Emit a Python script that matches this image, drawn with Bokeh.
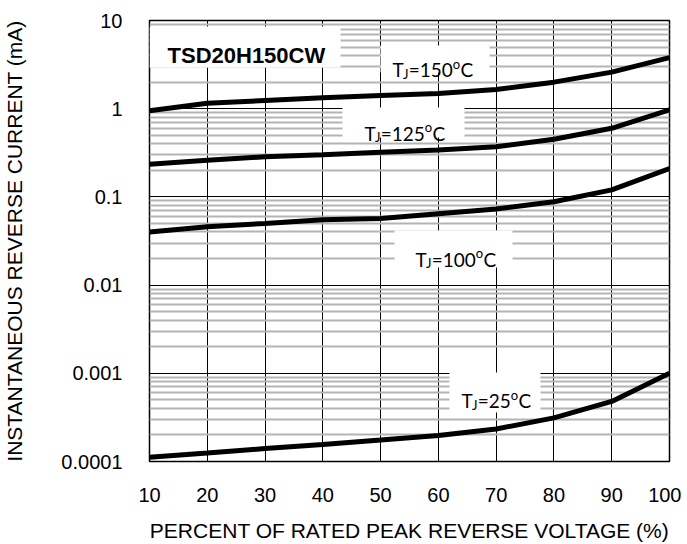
from bokeh.plotting import figure
from bokeh.models import FixedTicker, CustomJSTickFormatter
from bokeh.core.properties import value
from bokeh.embed import file_html
from bokeh.resources import INLINE

# ---- data ----
x_pct = [10, 20, 30, 40, 50, 60, 70, 80, 90, 100]
i_150 = [0.95, 1.15, 1.24, 1.33, 1.41, 1.49, 1.65, 2.0, 2.6, 3.8]
i_125 = [0.235, 0.26, 0.285, 0.30, 0.32, 0.34, 0.37, 0.45, 0.60, 0.97]
i_100 = [0.040, 0.046, 0.050, 0.055, 0.057, 0.0645, 0.073, 0.088, 0.12, 0.21]
i_25 = [0.000112, 0.000125, 0.00014, 0.000156, 0.000175, 0.000197, 0.000234, 0.000312, 0.00048, 0.001]

y_ticks = [0.0001, 0.001, 0.01, 0.1, 1, 10]
x_ticks = [10, 20, 30, 40, 50, 60, 70, 80, 90, 100]
minor_y = [m * d for d in [0.0001, 0.001, 0.01, 0.1, 1] for m in range(2, 10)]

title_text = "TSD20H150CW"
temps = ["150", "125", "100", "25"]
# label anchors (left edge, baseline) in data units
lab_x = [52.06, 47.21, 56.04, 64.0]
lab_y = [2.747, 0.5234, 0.01951, 0.000491]
# white label boxes (left, right, bottom, top) in data units
box_l = [10.0, 49.98, 43.40, 52.40, 61.92]
box_r = [43.06, 68.85, 64.52, 72.83, 77.67]
box_b = [2.94, 2.57, 0.4716, 0.01583, 0.000359]
box_t = [8.55, 5.21, 1.032, 0.0416, 0.00102]

p = figure(
    output_backend="svg", toolbar_location=None,
    x_range=(10, 100), y_range=(0.0001, 10), y_axis_type="log",
    frame_width=520, frame_height=441,
    min_border_left=147, min_border_right=12, min_border_top=20, min_border_bottom=75,
    background_fill_color="white", border_fill_color="white",
)
p.outline_line_color = "black"
p.outline_line_width = 1.5

p.xaxis.ticker = FixedTicker(ticks=x_ticks)
p.yaxis.ticker = FixedTicker(ticks=y_ticks, minor_ticks=minor_y)
p.yaxis.formatter = CustomJSTickFormatter(code="return tick.toString();")

for ax in (p.xaxis[0], p.yaxis[0]):
    ax.axis_line_color = None
    ax.major_tick_line_color = None
    ax.minor_tick_line_color = None
    ax.major_tick_out = 0
    ax.major_tick_in = 0
    ax.minor_tick_out = 0
    ax.minor_tick_in = 0
    ax.major_label_text_font = "Liberation Sans"
    ax.major_label_text_font_size = "20px"
    ax.major_label_text_color = "black"
    ax.axis_label_text_font = "Liberation Sans"
    ax.axis_label_text_font_size = "21px"
    ax.axis_label_text_font_style = "normal"
    ax.axis_label_text_color = "black"

p.xaxis.axis_label = "PERCENT OF RATED PEAK REVERSE VOLTAGE (%)"
p.yaxis.axis_label = "INSTANTANEOUS REVERSE CURRENT (mA)"
p.xaxis.major_label_standoff = 26
p.yaxis.major_label_standoff = 27
p.xaxis.axis_label_standoff = 14
p.yaxis.axis_label_standoff = 32

p.xgrid.ticker = FixedTicker(ticks=x_ticks)
p.xgrid.grid_line_color = "black"
p.xgrid.grid_line_width = 1
p.ygrid.ticker = FixedTicker(ticks=y_ticks, minor_ticks=minor_y)
p.ygrid.grid_line_color = "black"
p.ygrid.grid_line_width = 1
p.ygrid.minor_grid_line_color = "#b4b4b4"
p.ygrid.minor_grid_line_width = 2

# white boxes behind labels
p.quad(left=box_l, right=box_r, bottom=box_b, top=box_t,
       fill_color="white", line_color=None)

# curves
for ys in (i_150, i_125, i_100, i_25):
    p.line(x_pct, ys, line_color="black", line_width=5)

# title text
p.text(x=[13.12], y=[4.01], text=[title_text], text_font=value("Liberation Sans"),
       text_font_style="bold", text_font_size="22px", text_color="black",
       text_baseline="alphabetic", text_align="left")

# Tj labels composed of pieces
fs, fss = 19, 13
for t, lx, ly in zip(temps, lab_x, lab_y):
    w_T = 0.58 * fs
    w_J = 0.36 * fss
    mid = "=" + t
    w_mid = 0.58 * fs * len(mid)
    w_o = 0.56 * fss
    pieces = [
        ("T", 0, 0, fs),
        ("J", w_T - 0.5, 4, fss),
        (mid, w_T + w_J + 0.5, 0, fs),
        ("o", w_T + w_J + w_mid + 0.5, -6, fss),
        ("C", w_T + w_J + w_mid + w_o + 1.0, 0, fs),
    ]
    for txt, xo, yo, size in pieces:
        p.text(x=[lx], y=[ly], text=[txt], x_offset=xo, y_offset=yo,
               text_font=value("Lato"), text_font_size=f"{size}px",
               text_color="black", text_baseline="alphabetic", text_align="left")

open("out.html", "w").write(file_html(p, INLINE))
